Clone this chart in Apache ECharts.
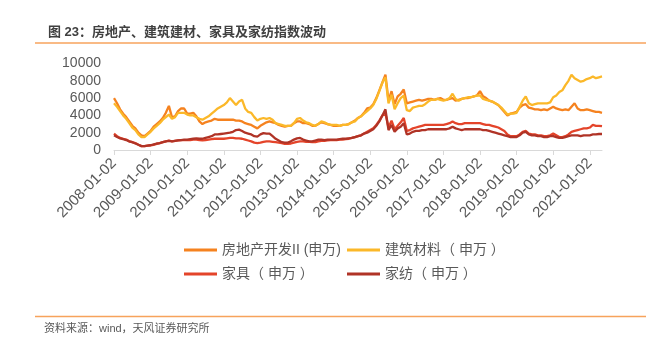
<!DOCTYPE html>
<html>
<head>
<meta charset="utf-8">
<script src="https://cdn.jsdelivr.net/npm/echarts@6/dist/echarts.min.js"></script>
<style>
html,body{margin:0;padding:0;background:#fff;}
#c{width:646px;height:339px;}
</style>
</head>
<body>
<div id="c"></div>
<script>
// Monthly categories 2008-01 .. 2021-05 (label shown on January: YYYY-01-02)
const startYear = 2008, endYear = 2021, endMonth = 5;
const categories = [];
for (let y = startYear; y <= endYear; y++) {
  for (let m = 1; m <= 12; m++) {
    if (y === endYear && m > endMonth) break;
    categories.push(y + '-' + String(m).padStart(2, '0') + '-02');
  }
}

const seriesNames = ['房地产开发II (申万)', '建筑材料（ 申万 ）', '家具（ 申万 ）', '家纺（ 申万 ）'];

// 房地产开发II (申万)
const realEstate = [
  6000, 5400, 4700, 4200, 3800, 3300, 2800, 2500, 2000, 1700, 1600, 1900,
  2200, 2700, 3000, 3300, 3700, 4300, 5100, 3800, 3900, 4500, 4800, 4800,
  4200, 4200, 4300, 3900, 3300, 3000, 3200, 3300, 3400, 3600, 3500, 3500,
  3500, 3500, 3500, 3500, 3400, 3400, 3300, 3100, 3000, 2900, 2700, 2500,
  2800, 3000, 3200, 3300, 3200, 3100, 2900, 2800, 2700, 2800, 2800, 3100,
  3300, 3300, 3100, 3100, 3000, 2800, 2800, 3000, 3200, 3100, 3000, 2900,
  2800, 2800, 2800, 2900, 2900, 3000, 3200, 3400, 3700, 3900, 4300, 4800,
  4900, 5300, 6000, 6900, 7800, 8700, 5700, 6800, 5300, 6200, 6500, 7000,
  5400, 5500, 5600, 5700, 5800, 5700, 5800, 5900, 5900, 5800, 5900, 6000,
  5800, 5800, 5900, 6000, 5700, 5800, 5900, 6000, 6000, 6100, 6200, 6300,
  6800, 6200, 6000, 5700, 5600, 5400, 5200, 4800, 4400, 4000, 4200, 4300,
  4400, 4900, 5200, 5300, 4900, 4800, 4700, 4700, 4600, 4700, 4600, 4800,
  5000, 4800, 4700, 4600, 4700, 4600, 5000, 5400, 4800, 4600, 4600, 4700,
  4600, 4500, 4400, 4400, 4300
];

// 建筑材料（申万）
const buildingMaterials = [
  5400, 5000, 4500, 4000, 3600, 3100, 2600, 2300, 1800, 1500, 1500, 1800,
  2100, 2500, 2800, 3100, 3500, 3800, 4100, 3600, 3800, 4300, 4300, 4300,
  4100, 4000, 4000, 3800, 3600, 3500, 3700, 3900, 4200, 4500, 4800, 5000,
  5200, 5500, 6000, 5600, 5200, 5600, 5800, 4800, 4400, 4300, 3800, 3400,
  3600, 3700, 3600, 3700, 3500, 3100, 3000, 2900, 2800, 2800, 2800, 3100,
  3600, 3700, 3400, 3200, 3100, 2900, 2800, 3000, 3300, 3200, 3000, 2900,
  2900, 2900, 2800, 2900, 2900, 3000, 3200, 3300, 3700, 3900, 4200, 4500,
  4800, 5200, 5900, 6800, 7800, 8400, 5400, 6400, 4700, 5400, 6000, 6300,
  4600, 4500, 4900, 5000, 5100, 5100, 5300, 5600, 5800, 5800, 5900, 5800,
  5700, 5800, 6000, 6500, 5900, 5700, 5900, 6000, 6100, 6100, 6200, 6300,
  6300, 5900, 5800, 5700, 5600, 5400, 5200, 4900, 4500, 4100, 4200, 4200,
  4300, 5000, 5700, 6200, 5400, 5200, 5300, 5400, 5400, 5400, 5400, 5500,
  6100, 6300, 6700, 6900, 7500, 8000, 8700, 8300, 8100, 7900, 8000, 8200,
  8300, 8500, 8300, 8400, 8500
];

// 家具（申万）
const furniture = [
  1900, 1600, 1400, 1300, 1200, 1000, 900, 800, 600, 450, 450, 500,
  550, 600, 700, 800, 900, 1000, 1100, 1000, 1050, 1100, 1150, 1150,
  1150, 1150, 1200, 1200, 1150, 1100, 1150, 1200, 1250, 1300, 1300, 1300,
  1300, 1350, 1400, 1400, 1350, 1350, 1300, 1200, 1100, 1000, 850, 800,
  850, 950, 1000, 1000, 950, 900, 850, 800, 700, 700, 750, 850,
  950, 1000, 1000, 950, 950, 900, 900, 1000, 1050, 1050, 1100, 1150,
  1150, 1150, 1200, 1200, 1250, 1300, 1400, 1500, 1600, 1700, 1900, 2100,
  2300, 2500, 2900, 3400, 4000, 4200, 2600, 3400, 2400, 2800, 3200, 3700,
  2200, 2300, 2500, 2600, 2700, 2800, 2900, 2900, 2900, 2900, 2900, 2900,
  2900, 3000, 3100, 3300, 3100, 3000, 3000, 3100, 3100, 3100, 3100, 3100,
  3100, 3000, 2900, 2900, 2800, 2700, 2600, 2400, 2200, 1800, 1600, 1600,
  1600, 1800, 2100, 2200, 1900, 1800, 1800, 1700, 1700, 1600, 1600, 1700,
  1900, 1700, 1500, 1500, 1600, 1800, 2100, 2200, 2300, 2400, 2500, 2500,
  2600, 2900, 2800, 2800, 2750
];

// 家纺（申万）
const homeTextile = [
  1700, 1500, 1350, 1250, 1150, 1000, 900, 750, 600, 450, 450, 500,
  550, 650, 750, 800, 900, 1000, 1050, 1000, 1050, 1100, 1150, 1200,
  1200, 1250, 1300, 1350, 1300, 1300, 1400, 1500, 1600, 1800, 1800, 1850,
  1900, 1950, 2000, 2100, 2300, 2350, 2200, 2000, 1900, 1800, 1600, 1550,
  1800, 1950, 1900, 1900, 1600, 1300, 1100, 900, 850, 850, 1000, 1200,
  1350, 1400, 1200, 1100, 1000, 1000, 1100, 1200, 1200, 1150, 1200, 1200,
  1200, 1200, 1250, 1300, 1300, 1350, 1400, 1500, 1600, 1700, 1900, 2000,
  2200, 2400, 2800, 3300, 4000, 4700, 2300, 2900, 2100, 2500, 2700, 3100,
  1800, 1900, 2100, 2200, 2200, 2300, 2300, 2400, 2400, 2400, 2400, 2400,
  2400, 2400, 2500, 2700, 2500, 2400, 2300, 2400, 2400, 2400, 2400, 2400,
  2400, 2300, 2300, 2200, 2100, 2000, 1900, 1800, 1700, 1600, 1500, 1500,
  1500, 1700, 2000, 2100, 1800, 1700, 1700, 1600, 1600, 1500, 1500, 1600,
  1600, 1500, 1400, 1400, 1500, 1600, 1700, 1700, 1700, 1600, 1700, 1700,
  1700, 1800, 1800, 1850, 1850
];

const colors = ['#F5821F', '#FBB829', '#E4442A', '#B03326'];
const FONT = "'Liberation Sans','Noto Sans CJK SC',sans-serif";
const seriesData = [realEstate, buildingMaterials, furniture, homeTextile];

const chart = echarts.init(document.getElementById('c'), null, {renderer: 'canvas'});
const yearTick = (idx) => idx % 12 === 0;

chart.setOption({
  animation: false,
  backgroundColor: '#fff',
  color: colors,
  title: {
    text: '图 23：房地产、建筑建材、家具及家纺指数波动',
    left: 43, top: 21,
    textStyle: {fontFamily: FONT, fontSize: 13, fontWeight: 'bold', color: '#404040'}
  },
  graphic: [
    {type: 'line', shape: {x1: 35, y1: 43, x2: 646, y2: 43}, style: {stroke: '#F7A35C', lineWidth: 1.3}},
    {type: 'line', shape: {x1: 35, y1: 316.5, x2: 646, y2: 316.5}, style: {stroke: '#F7A35C', lineWidth: 1.3}},
    {type: 'text', left: 44, top: 323, style: {text: '资料来源：wind，天风证券研究所', fontFamily: FONT, fontSize: 11, fill: '#595959'}}
  ],
  legend: [
    {
      data: [seriesNames[0], seriesNames[2]], orient: 'vertical', left: 179, top: 238,
      icon: 'rect', itemWidth: 33, itemHeight: 3, itemGap: 10,
      textStyle: {fontFamily: FONT, fontSize: 14, color: '#595959'}
    },
    {
      data: [seriesNames[1], seriesNames[3]], orient: 'vertical', left: 342, top: 238,
      icon: 'rect', itemWidth: 33, itemHeight: 3, itemGap: 10,
      textStyle: {fontFamily: FONT, fontSize: 14, color: '#595959'}
    }
  ],
  grid: {left: 114, right: 44, top: 63.5, bottom: 189, containLabel: false},
  xAxis: {
    type: 'category',
    data: categories,
    boundaryGap: false,
    axisLine: {lineStyle: {color: '#D9D9D9', width: 1}},
    axisTick: {interval: (i) => yearTick(i), length: 5, lineStyle: {color: '#D9D9D9'}},
    axisLabel: {
      interval: (i) => yearTick(i), rotate: 45, margin: 11,
      fontFamily: FONT, fontSize: 15, color: '#595959'
    },
    splitLine: {show: false}
  },
  yAxis: {
    type: 'value', min: 0, max: 10000, interval: 2000,
    axisLine: {show: false}, axisTick: {show: false},
    splitLine: {show: false},
    axisLabel: {fontFamily: FONT, fontSize: 14, color: '#595959', margin: 13,
      formatter: (v) => String(v)}
  },
  series: seriesData.map((d, i) => ({
    name: seriesNames[i], type: 'line', data: d, symbol: 'none',
    lineStyle: {width: 2.3, color: colors[i]}, itemStyle: {color: colors[i]}
  }))
});
</script>
</body>
</html>
